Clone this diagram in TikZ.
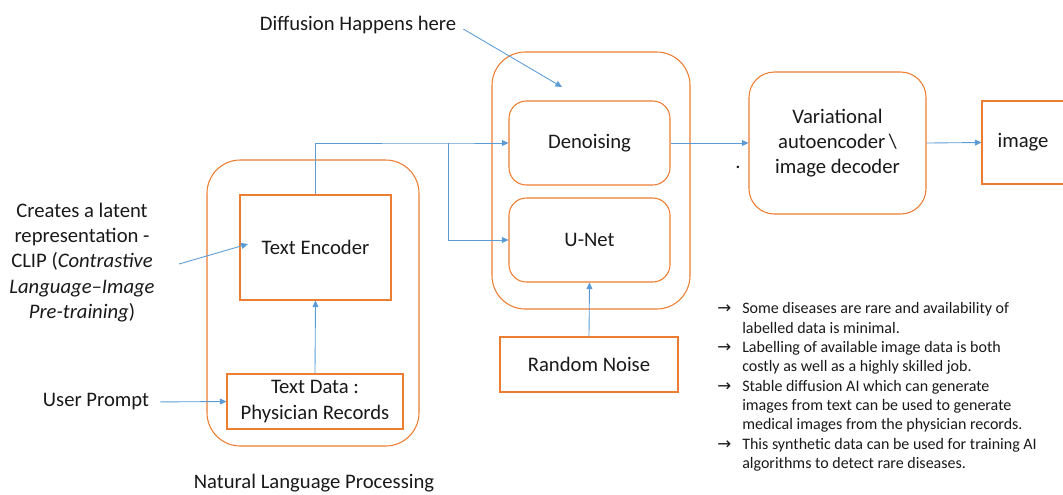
\documentclass[tikz,border=0pt]{standalone}
\usepackage{fontspec}
\setmainfont{Carlito}
\newfontfamily\arrowfont{DejaVu Sans}
\usetikzlibrary{arrows.meta}
\definecolor{orng}{RGB}{237,125,49}
\definecolor{blu}{RGB}{91,155,213}
\definecolor{txt}{RGB}{25,25,25}
\newcommand{\notearrow}{{\arrowfont\fontsize{12.5}{12.5}\selectfont →}}
\begin{document}
\begin{tikzpicture}[x=0.75pt,y=-0.75pt,
  font=\fontsize{15.5}{19}\selectfont, text=txt,
  sq/.style={draw=orng,line width=0.8pt,align=center,inner sep=0pt},
  rsmall/.style={sq,rounded corners=13pt},
  rmid/.style={sq,rounded corners=19pt},
  rbig/.style={sq,rounded corners=25pt},
  plain/.style={inner sep=0pt,align=center},
  conn/.style={draw=blu,line width=0.65pt,-{Triangle[length=5pt,width=4.5pt]}}]
\useasboundingbox (0,0) rectangle (1063,494);
\clip (0,0) rectangle (1063,494);
% containers
\node[rbig, minimum width=159pt, minimum height=214.5pt] (nlp) at (313,303) {};
\node[rbig, minimum width=148.5pt, minimum height=192.75pt] (mid) at (591,180.5) {};
% boxes
\node[sq, minimum width=113.25pt, minimum height=78.75pt] (enc) at (315.5,247.5) {Text Encoder};
\node[sq, minimum width=132pt, minimum height=41.25pt] (data) at (315,401.5) {Text Data :\\Physician Records};
\node[rsmall, minimum width=120.75pt, minimum height=63pt] (den) at (589.5,143) {Denoising};
\node[rsmall, minimum width=120.75pt, minimum height=63pt] (unet) at (589.5,240) {U-Net};
\node[sq, minimum width=133.5pt, minimum height=41.25pt] (noise) at (589,364.5) {Random Noise};
\node[rmid, minimum width=132.75pt, minimum height=106.5pt] (vae) at (837.5,143) {Variational\\autoencoder\,\textbackslash\\image decoder};
\node[sq, minimum width=61.5pt, minimum height=62.25pt] (img) at (1023,142.5) {image};
% labels
\node[plain] (diff) at (358,25) {Diffusion Happens here};
\node[plain] (prompt) at (96,402) {User Prompt};
\node[plain] (cliptext) at (82,262.5) {Creates a latent\\representation -\\CLIP (\textit{Contrastive}\\\textit{Language–Image}\\\textit{Pre-training})};
\node[plain] (nlplabel) at (314,483) {Natural Language Processing};
\node[plain] (dot) at (738,167) {.};
\node[anchor=north west, inner sep=0pt, font=\fontsize{12}{14.5}\selectfont] (notes) at (717,300)
{\begin{tabular}{@{}p{18.75pt}@{}l@{}}
\notearrow & Some diseases are rare and availability of\\
 & labelled data is minimal.\\
\notearrow & Labelling of available image data is both\\
 & costly as well as a highly skilled job.\\
\notearrow & Stable diffusion AI which can generate\\
 & images from text can be used to generate\\
 & medical images from the physician records.\\
\notearrow & This synthetic data can be used for training AI\\
 & algorithms to detect rare diseases.
\end{tabular}};
% coordinates
\coordinate (split) at (448,143);
\coordinate (clipfrom) at (179,264);
\coordinate (clipto) at (248,244);
\coordinate (diffto) at (562,87);
% connectors
\draw[conn] (enc.north) |- (split) -- (den.west);
\draw[conn] (split) |- (unet.west);
\draw[conn] (data.north) -- (enc.south);
\draw[conn] (noise.north) -- (unet.south);
\draw[conn] (den.east) -- (vae.west);
\draw[conn] (vae.east) -- (img.west);
\draw[conn, shorten <=8pt] (prompt.east) -- (data.west);
\draw[conn] (clipfrom) -- (clipto);
\draw[conn, shorten <=6pt] (diff.east) -- (diffto);
\end{tikzpicture}
\end{document}
